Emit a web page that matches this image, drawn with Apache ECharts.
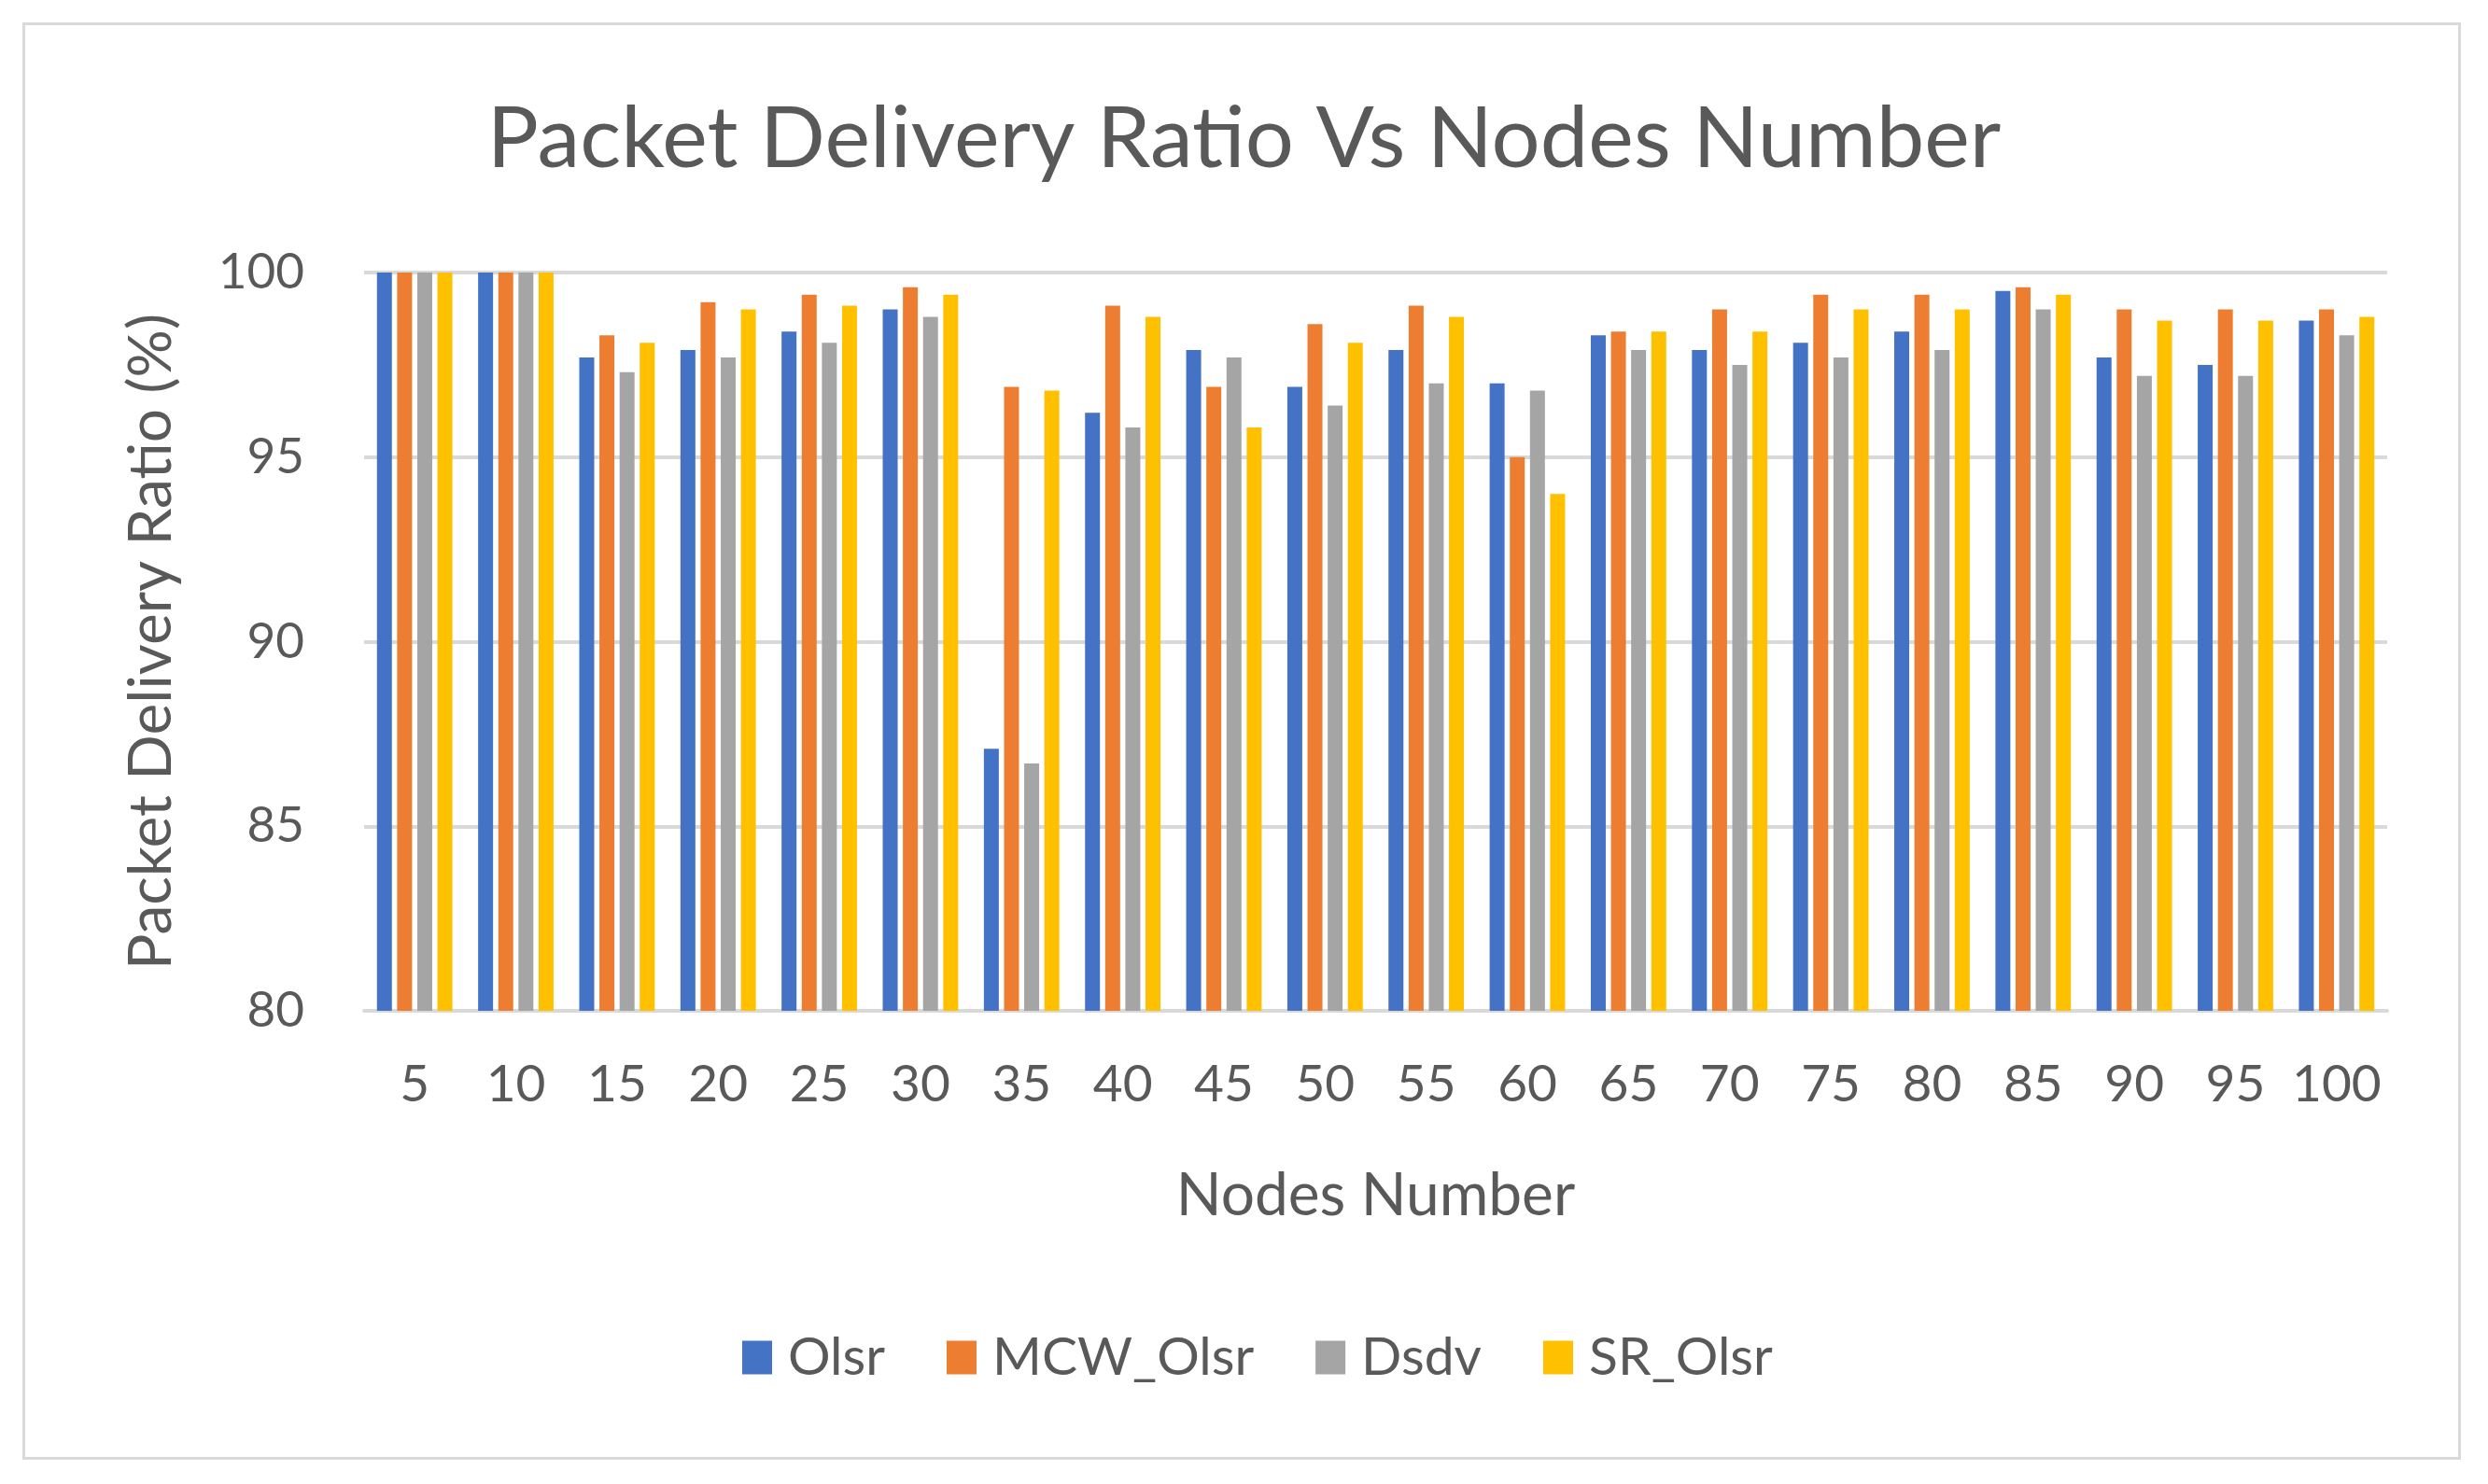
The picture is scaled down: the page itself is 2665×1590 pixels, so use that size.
<!DOCTYPE html>
<html>
<head>
<meta charset="utf-8">
<script src="https://cdn.jsdelivr.net/npm/echarts@6/dist/echarts.min.js"></script>
<style>
    html, body {margin:0; padding:0; background:#fff;}
    #main {width:2665px; height:1590px;}
    #frame {position:absolute; left:24px; top:24px; width:2612px; height:1540px; border:3px solid #d9d9d9; box-sizing:border-box; pointer-events:none;}
</style>
</head>
<body>
<div id="main"></div>
<div id="frame"></div>
<script>
// 节点数量
const nodes = ['5','10','15','20','25','30','35','40','45','50','55','60','65','70','75','80','85','90','95','100'];
// 各协议的投递率 (%)
const olsr    = [100, 100, 97.7, 97.9, 98.4, 99.0, 87.1, 96.2, 97.9, 96.9, 97.9, 97.0, 98.3, 97.9, 98.1, 98.4, 99.5, 97.7, 97.5, 98.7];
const mcwOlsr = [100, 100, 98.3, 99.2, 99.4, 99.6, 96.9, 99.1, 96.9, 98.6, 99.1, 95.0, 98.4, 99.0, 99.4, 99.4, 99.6, 99.0, 99.0, 99.0];
const dsdv    = [100, 100, 97.3, 97.7, 98.1, 98.8, 86.7, 95.8, 97.7, 96.4, 97.0, 96.8, 97.9, 97.5, 97.7, 97.9, 99.0, 97.2, 97.2, 98.3];
const srOlsr  = [100, 100, 98.1, 99.0, 99.1, 99.4, 96.8, 98.8, 95.8, 98.1, 98.8, 94.0, 98.4, 98.4, 99.0, 99.0, 99.4, 98.7, 98.7, 98.8];
const yTicks  = {min: 80, max: 100, interval: 5};

const FONT = 'Lato';
const TXT = '#595959';

let myChart = echarts.init(document.getElementById('main'));

function barSeries(name, data, color) {
    return {
        name: name,
        type: 'bar',
        data: data,
        barWidth: 16,
        barGap: '35%',
        clip: true,
        itemStyle: {color: color}
    };
}

myChart.setOption({
    backgroundColor: '#fff',
    animation: false,
    title: {
        text: 'Packet Delivery Ratio Vs Nodes Number',
        left: 'center',
        top: 98,
        textStyle: {fontFamily: FONT, fontSize: 92, fontWeight: 'normal', color: TXT}
    },
    grid: {
        left: 390,
        right: 108,
        top: 292,
        bottom: 1590 - 1083
    },
    legend: {
        bottom: 102,
        left: 790,
        itemWidth: 32,
        itemHeight: 36,
        itemGap: 66,
        icon: 'rect',
        textStyle: {fontFamily: FONT, fontSize: 57, color: TXT, padding: [0, 0, 0, 12]},
        data: ['Olsr', 'MCW_Olsr', 'Dsdv', 'SR_Olsr']
    },
    xAxis: {
        type: 'category',
        data: nodes,
        name: 'Nodes Number',
        nameLocation: 'middle',
        nameGap: 166,
        nameTextStyle: {fontFamily: FONT, fontSize: 64, color: TXT},
        axisTick: {show: false},
        axisLine: {lineStyle: {color: '#d9d9d9', width: 4}},
        axisLabel: {fontFamily: FONT, fontSize: 55, color: TXT, margin: 52, interval: 0}
    },
    yAxis: {
        type: 'value',
        min: yTicks.min,
        max: yTicks.max,
        interval: yTicks.interval,
        name: 'Packet Delivery Ratio (%)',
        nameLocation: 'middle',
        nameGap: 196,
        nameTextStyle: {fontFamily: FONT, fontSize: 64, color: TXT},
        axisLine: {show: false},
        axisTick: {show: false},
        axisLabel: {fontFamily: FONT, fontSize: 53, color: TXT, margin: 64},
        splitLine: {lineStyle: {color: '#d9d9d9', width: 4}}
    },
    series: [
        barSeries('Olsr', olsr, '#4472C4'),
        barSeries('MCW_Olsr', mcwOlsr, '#ED7D31'),
        barSeries('Dsdv', dsdv, '#A5A5A5'),
        barSeries('SR_Olsr', srOlsr, '#FFC000')
    ]
});
</script>
</body>
</html>
